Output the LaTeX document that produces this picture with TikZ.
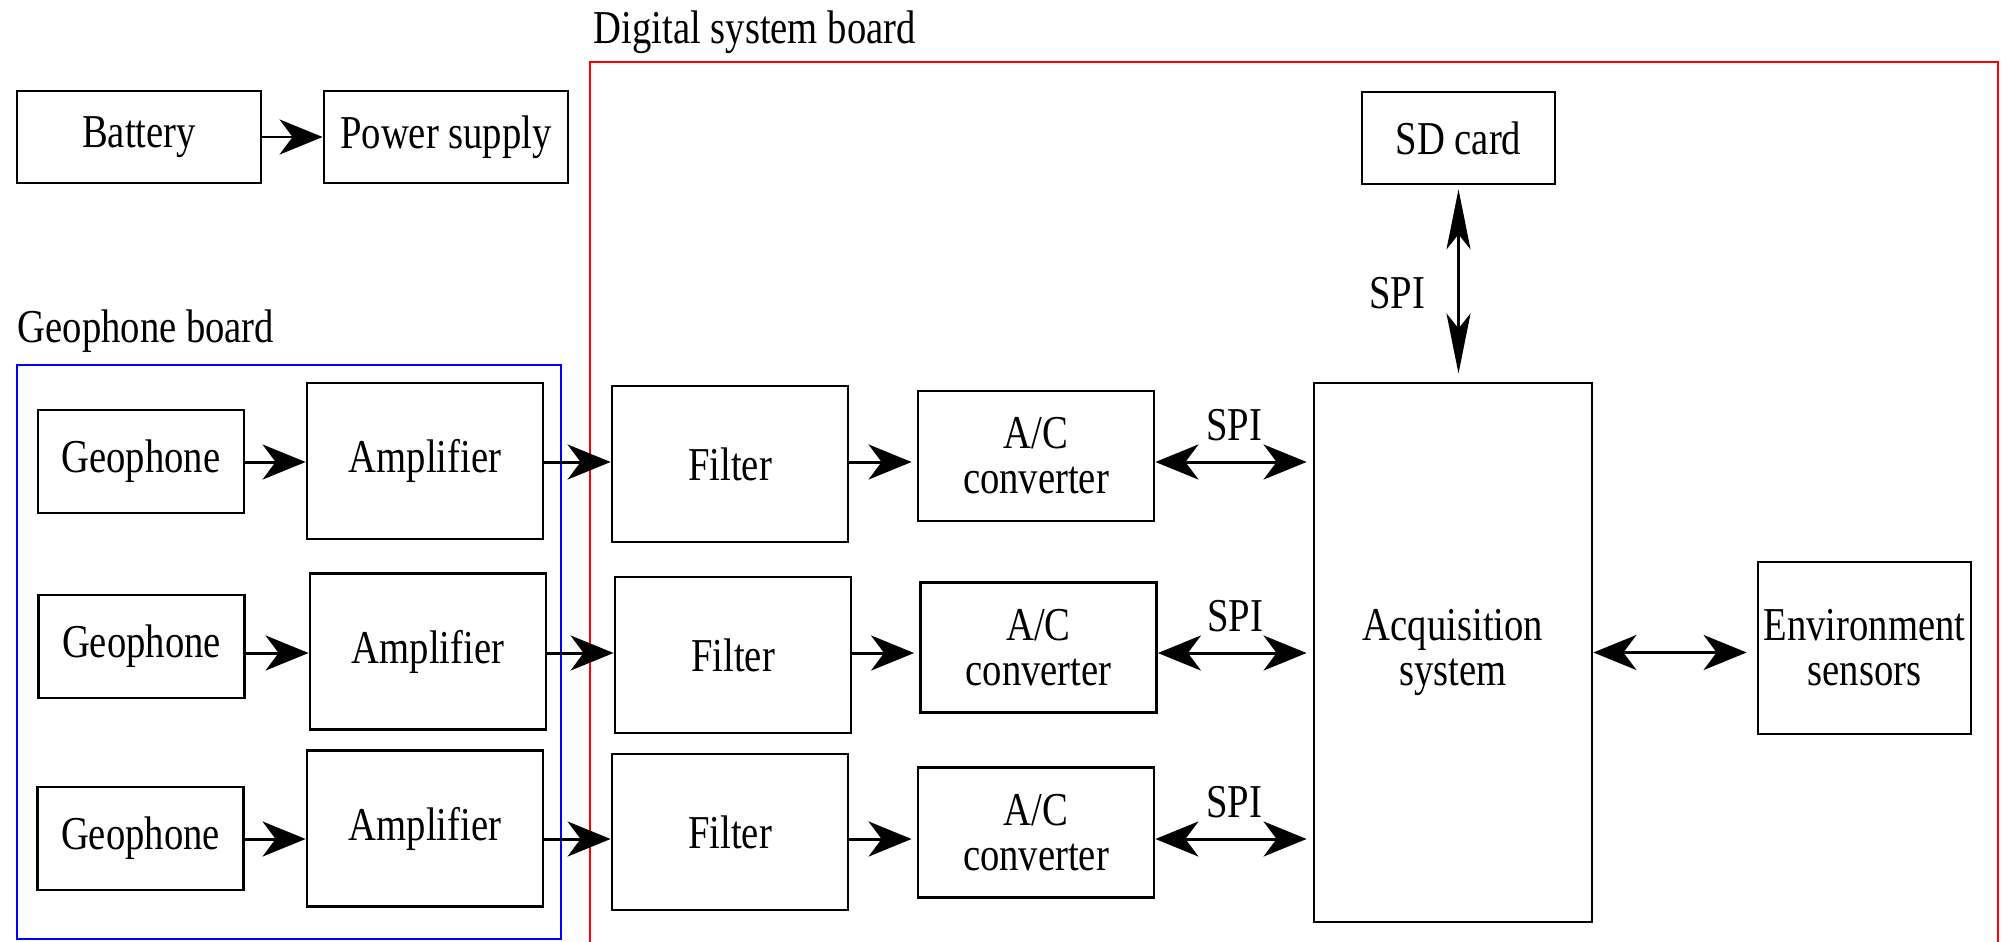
\documentclass[tikz,border=0pt]{standalone}
\usepackage{fontspec}
\setmainfont{Liberation Serif}[FakeStretch=0.82]
\usetikzlibrary{arrows.meta}

\tikzset{
	htip/.tip={Stealth[length=4.3mm, width=3.5mm, inset=1.3mm]},
	vtip/.tip={Stealth[length=6mm, width=2.4mm, inset=1.5mm]},
	blk/.style={draw, line width=0.75pt, inner sep=0pt, align=center},
	pwrbox/.style={blk, minimum width=2.44cm, minimum height=0.92cm},
	geobox/.style={blk, minimum width=2.06cm, minimum height=1.03cm},
	ampbox/.style={blk, minimum width=2.36cm, minimum height=1.56cm},
	adcbox/.style={blk, minimum width=2.36cm, minimum height=1.30cm},
	harr/.style={line width=0.85pt, -htip},
	hdbl/.style={line width=0.85pt, htip-htip},
	vdbl/.style={line width=0.85pt, vtip-vtip},
	lbl/.style={inner sep=0pt}
}

\begin{document}
\begin{tikzpicture}[x=0.01cm, y=-0.01cm, font=\fontsize{13.4}{12.8}\selectfont]
	\useasboundingbox (0,0) rectangle (2008,942);

	\draw[red, line width=0.7pt] (590,942) -- (590,62) -- (1998,62) -- (1998,942);
	\draw[blue, line width=0.7pt] (17,365) rectangle (561,939);
	\node[lbl, anchor=base west] (dsb) at (593,43) {Digital system board};
	\node[lbl, anchor=base west] (gb) at (17,342) {Geophone board};

	\node[pwrbox] (bat) at (139,137) {Battery};
	\node[pwrbox] (pwr) at (446,137) {Power supply};
	\node[blk, minimum width=1.93cm, minimum height=0.92cm] (sd) at (1458.5,138) {SD card};

	\node[geobox] (geo1) at (141,461.5) {Geophone};
	\node[geobox] (geo2) at (141.5,646.5) {Geophone};
	\node[geobox] (geo3) at (140.5,838.5) {Geophone};
	\node[ampbox] (amp1) at (425,461) {Amplifier};
	\node[ampbox] (amp2) at (428,651.5) {Amplifier};
	\node[ampbox] (amp3) at (425,828.5) {Amplifier};
	\node[ampbox] (fil1) at (730,464) {Filter};
	\node[ampbox] (fil2) at (733,655) {Filter};
	\node[ampbox] (fil3) at (730,832) {Filter};
	\node[adcbox] (adc1) at (1036,456) {A/C\\converter};
	\node[adcbox] (adc2) at (1038.5,647.5) {A/C\\converter};
	\node[adcbox] (adc3) at (1036,832.5) {A/C\\converter};
	\node[blk, minimum width=2.78cm, minimum height=5.39cm] (acq) at (1453,652.5) {Acquisition\\system};
	\node[blk, minimum width=2.13cm, minimum height=1.72cm] (env) at (1864.5,648) {Environment\\sensors};

	\coordinate (r1) at (0,462);
	\coordinate (r2) at (0,653);
	\coordinate (r3) at (0,839);

	\draw[harr] (bat) -- (pwr);

	\draw[harr] (geo1.east |- r1) -- (amp1.west |- r1);
	\draw[harr] (amp1.east |- r1) -- (fil1.west |- r1);
	\draw[harr, shorten >=0.5mm] (fil1.east |- r1) -- (adc1.west |- r1);
	\draw[hdbl, shorten >=0.6mm] (adc1.east |- r1) -- (acq.west |- r1) node[lbl, midway, above=2mm] (spi1) {SPI};

	\draw[harr] (geo2.east |- r2) -- (amp2.west |- r2);
	\draw[harr] (amp2.east |- r2) -- (fil2.west |- r2);
	\draw[harr, shorten >=0.5mm] (fil2.east |- r2) -- (adc2.west |- r2);
	\draw[hdbl, shorten >=0.6mm] (adc2.east |- r2) -- (acq.west |- r2) node[lbl, midway, above=2mm] (spi2) {SPI};

	\draw[harr] (geo3.east |- r3) -- (amp3.west |- r3);
	\draw[harr] (amp3.east |- r3) -- (fil3.west |- r3);
	\draw[harr, shorten >=0.5mm] (fil3.east |- r3) -- (adc3.west |- r3);
	\draw[hdbl, shorten >=0.6mm] (adc3.east |- r3) -- (acq.west |- r3) node[lbl, midway, above=2mm] (spi3) {SPI};

	\draw[vdbl, shorten <=0.4mm, shorten >=0.8mm] (sd.south) -- (sd.south |- acq.north) node[lbl, midway, left=3.2mm, yshift=-1mm] (spi0) {SPI};
	\draw[hdbl, shorten >=1mm] (acq.east) -- (acq.east -| env.west);
\end{tikzpicture}
\end{document}
